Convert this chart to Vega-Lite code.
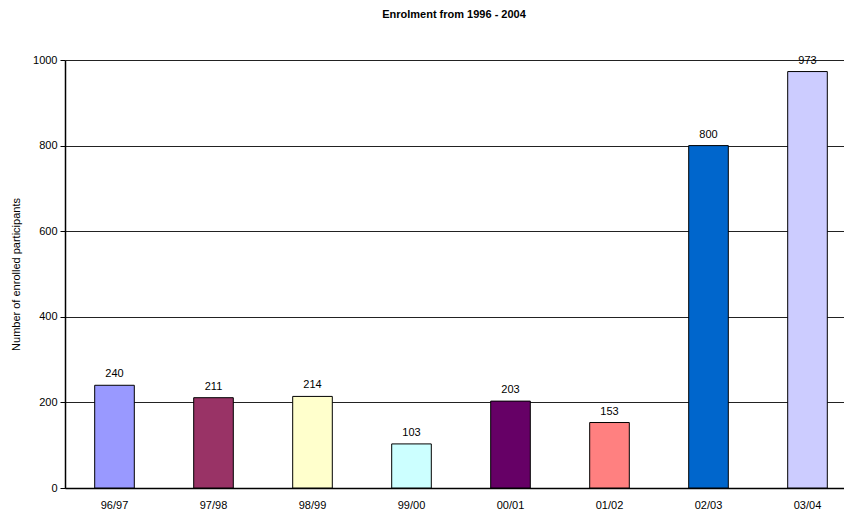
{
  "$schema": "https://vega.github.io/schema/vega-lite/v6.json",
  "width": 778,
  "height": 428,
  "autosize": {"type": "none"},
  "padding": {"left": 65, "top": 60, "right": 1, "bottom": 22},
  "background": "white",
  "title": {
    "text": "Enrolment from 1996 - 2004",
    "font": "Liberation Sans",
    "fontSize": 11,
    "fontWeight": "bold",
    "color": "black",
    "anchor": "middle",
    "offset": 34
  },
  "config": {
    "view": {"stroke": null},
    "font": "Liberation Sans"
  },
  "data": {
    "values": [
      {"year": "96/97", "enrolled": 240},
      {"year": "97/98", "enrolled": 211},
      {"year": "98/99", "enrolled": 214},
      {"year": "99/00", "enrolled": 103},
      {"year": "00/01", "enrolled": 203},
      {"year": "01/02", "enrolled": 153},
      {"year": "02/03", "enrolled": 800},
      {"year": "03/04", "enrolled": 973}
    ]
  },
  "encoding": {
    "x": {
      "field": "year",
      "type": "nominal",
      "sort": null,
      "scale": {"range": [0, 792], "paddingInner": 0.6, "paddingOuter": 0.3},
      "axis": {
        "title": null,
        "labelAngle": 0,
        "labelFont": "Liberation Sans",
        "labelFontSize": 11,
        "labelColor": "black",
        "labelPadding": 11,
        "ticks": false,
        "domainColor": "black",
        "domainWidth": 1.5
      }
    },
    "y": {
      "field": "enrolled",
      "type": "quantitative",
      "scale": {"domain": [0, 1000], "nice": false},
      "axis": {
        "title": "Number of enrolled participants",
        "titleFont": "Liberation Sans",
        "titleFontSize": 11,
        "titleFontWeight": "normal",
        "titleColor": "black",
        "titleX": -49,
        "titleY": 214,
        "titleBaseline": "middle",
        "values": [0, 200, 400, 600, 800, 1000],
        "format": "d",
        "labelFont": "Liberation Sans",
        "labelFontSize": 11,
        "labelColor": "black",
        "labelPadding": 3,
        "tickSize": 5,
        "tickColor": "black",
        "domainColor": "black",
        "domainWidth": 1.5,
        "grid": true,
        "gridColor": "#222222",
        "gridWidth": 1
      }
    }
  },
  "layer": [
    {
      "mark": {"type": "bar", "stroke": "black", "strokeWidth": 1},
      "encoding": {
        "color": {
          "field": "year",
          "type": "nominal",
          "sort": null,
          "scale": {
            "domain": ["96/97", "97/98", "98/99", "99/00", "00/01", "01/02", "02/03", "03/04"],
            "range": ["#9999FF", "#993366", "#FFFFCC", "#CCFFFF", "#660066", "#FF8080", "#0066CC", "#CCCCFF"]
          },
          "legend": null
        }
      }
    },
    {
      "mark": {"type": "text", "baseline": "bottom", "dy": -6, "fontSize": 11, "color": "black", "font": "Liberation Sans"},
      "encoding": {
        "text": {"field": "enrolled", "type": "quantitative"}
      }
    }
  ]
}
